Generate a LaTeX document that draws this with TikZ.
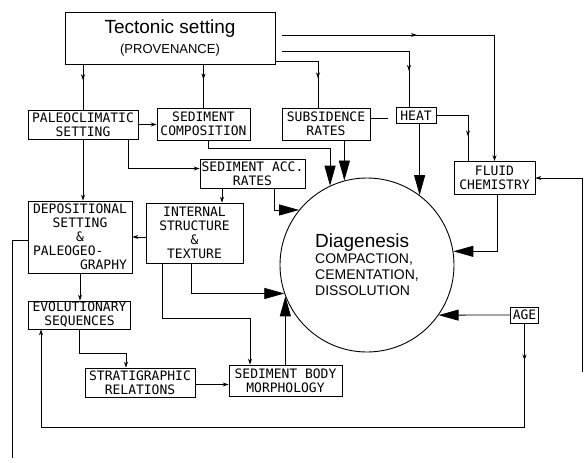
\documentclass[tikz,border=0pt]{standalone}
\usepackage{fontspec}
\newfontfamily\boxfont{DejaVu Sans Mono}
\newfontfamily\headfont{Liberation Sans}
\usetikzlibrary{arrows.meta,calc,decorations.markings}

\begin{document}
\begin{tikzpicture}[x=1pt,y=-1pt]


 \tikzset{
    box/.style={
      draw,
      line width=0.9pt,
      inner sep=0.5pt,
      align=center,
      font=\boxfont\fontsize{13}{14}\selectfont
    },
    link/.style={line width=0.8pt},
    arr/.style={link,-{Stealth[length=6pt,width=4pt]}},
    bigarr/.style={link,-{Triangle[length=20pt,width=11pt]}},
    midarr/.style={link,postaction={decorate},
      decoration={markings,mark=at position #1 with {\arrow{Stealth[length=6pt,width=4pt]}}}}
  }

\fill[white] (0,0) rectangle (584,463);
\useasboundingbox (0,0) rectangle (584,463);

\node[box, minimum width=210pt, minimum height=52pt, font=\headfont\fontsize{19}{20}\selectfont] (tect) at (170,38)
  {Tectonic setting\\{\fontsize{13}{15}\selectfont (PROVENANCE)}};

\node[box, minimum width=110pt, minimum height=29pt] (paleo) at (83,124.5) {PALEOCLIMATIC\\SETTING};
\node[box, minimum width=93pt, minimum height=32pt] (sedcomp) at (203.5,124) {SEDIMENT\\COMPOSITION};
\node[box, minimum width=88pt, minimum height=32pt] (subs) at (326,124) {SUBSIDENCE\\RATES};
\node[box, minimum width=40pt, minimum height=16pt] (heat) at (416,115.5) {HEAT};
\node[box, minimum width=81pt, minimum height=33pt] (fluid) at (494.5,178) {FLUID\\CHEMISTRY};
\node[box, minimum width=105pt, minimum height=29pt] (sedacc) at (252.5,173.5) {SEDIMENT ACC.\\RATES};
\node[box, minimum width=104pt, minimum height=72pt] (depos) at (80,237)
  {DEPOSITIONAL\\SETTING\\\&\\PALEOGEO-\hphantom{XXX}\\\hphantom{XXXXXX}GRAPHY};
\node[box, minimum width=97pt, minimum height=60pt] (internal) at (194.5,233) {INTERNAL\\STRUCTURE\\\&\\TEXTURE};
\node[box, minimum width=102pt, minimum height=28pt] (evol) at (79.5,315) {EVOLUTIONARY\\SEQUENCES};
\node[box, minimum width=110pt, minimum height=29pt] (strat) at (140,382.5) {STRATIGRAPHIC\\RELATIONS};
\node[box, minimum width=113pt, minimum height=31pt] (sedbody) at (285.5,380.5) {SEDIMENT BODY\\MORPHOLOGY};
\node[box, minimum width=28pt, minimum height=16pt] (age) at (524.5,315) {AGE};

\node[circle, draw, line width=0.9pt, minimum size=174pt, inner sep=0pt, align=left,
  font=\headfont\fontsize{14}{16}\selectfont] (diag) at (367,265)
  {{\fontsize{19}{20}\selectfont Diagenesis}\\COMPACTION,\\CEMENTATION,\\DISSOLUTION};

\coordinate (rtail) at (582,372);
\coordinate (ltail) at (12,458);

% tectonic setting
\draw[midarr=0.35] (paleo.north |- tect.south) -- (paleo.north);
\draw[midarr=0.35] (sedcomp.north |- tect.south) -- (sedcomp.north);
\draw[midarr=0.67] ([yshift=3pt]tect.south east) -| ([xshift=-8pt]subs.north);
\draw[midarr=0.81, shorten <=7pt] ([yshift=-13pt]tect.east) -| ([xshift=-7pt]heat.north);
\draw[arr, midarr=0.41, shorten <=7pt] ([yshift=3pt]tect.east) -| (fluid.north);

\draw[arr] (paleo.east) -- (paleo.east -| sedcomp.west);
\draw[arr] (paleo.south) -- (paleo.south |- depos.north);
\draw[arr] ([xshift=45pt]paleo.south) |- ([yshift=5pt]sedacc.west);
\draw[bigarr] ([xshift=4.5pt]sedcomp.south) -- ++(0,8) -| (diag.115);
\draw[bigarr] (diag.105 |- subs.south) -- (diag.105);
\draw[link, shorten >=8pt] ([yshift=6pt]subs.east) -- ([yshift=6pt]subs.east -| heat.west);
\draw[bigarr] (diag.53 |- heat.south) -- (diag.53);
\draw[midarr=0.68] (heat.east) -| ([xshift=-26.5pt]fluid.north);
\draw[bigarr] ([xshift=2.5pt]fluid.south) |- (diag.9);
\draw[arr] (rtail) |- (fluid.east);

\draw[arr] ([xshift=-30.5pt]sedacc.south) -- ([xshift=-30.5pt]sedacc.south |- internal.north);
\draw[bigarr] ([xshift=21.5pt]sedacc.south) |- (diag.141);
\draw[arr] ([yshift=-4pt]internal.west) -- ([yshift=-4pt]internal.west -| depos.east);
\draw[bigarr] ([xshift=-3.5pt]internal.south) |- (diag.199);
\draw[arr] ([xshift=-32.5pt]internal.south) -- ++(0,55) -| ([xshift=-35.5pt]sedbody.north);
\draw[bigarr] (diag.201 |- sedbody.north) -- (diag.201);

\draw[arr] (depos.south) -- (depos.south |- evol.north);
\draw[arr] (evol.south) -- ++(0,24) -| ([xshift=-14pt]strat.north);
\draw[arr] ([yshift=-2pt]strat.east) -- ([yshift=-2pt]strat.east -| sedbody.west);

% age
\draw[bigarr] (age.west) -- (diag.325);
\draw[arr, midarr=0.054] (age.south) -- ++(0,104) -| ([xshift=-38.5pt]evol.south);
\draw[link] ([yshift=-3pt]depos.west) -| (ltail);
\end{tikzpicture}
\end{document}
